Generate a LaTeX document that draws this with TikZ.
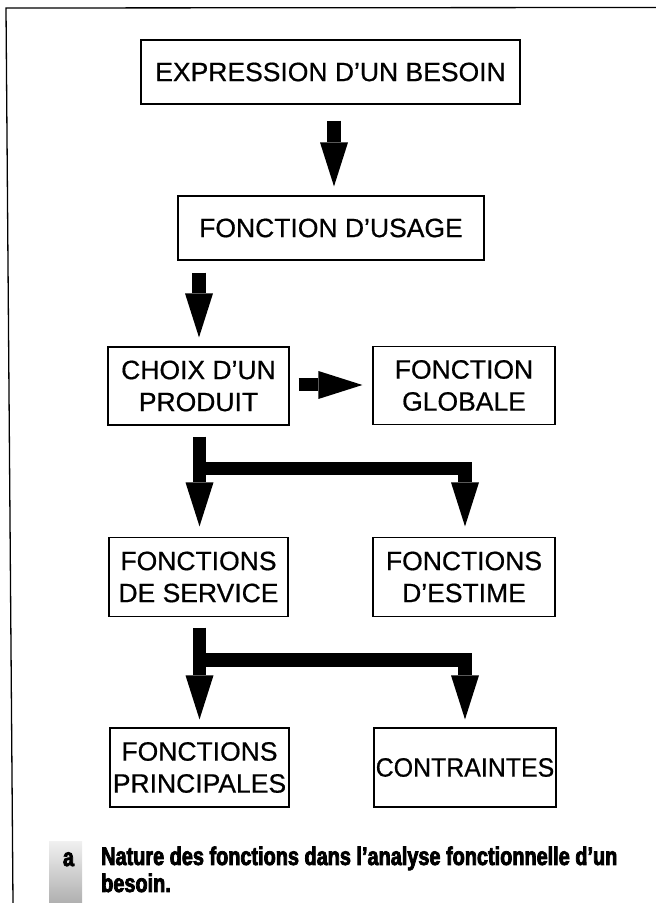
\documentclass[tikz,border=0pt]{standalone}
\usepackage{fontspec}
\setmainfont{Liberation Sans}
\newfontfamily\boxfont[FakeBold=0.6]{Liberation Sans}
\newfontfamily\capfont[FakeStretch=0.78,FakeBold=3]{Liberation Sans}
\usetikzlibrary{arrows.meta,calc}
\begin{document}
\begin{tikzpicture}[x=1pt,y=1pt,
  box/.style={draw, line width=1.2pt, inner sep=0pt, align=center,
    font=\boxfont\fontsize{26.5}{32}\selectfont},
  blk/.style={line width=13.5pt, line cap=butt, line join=miter,
    -{Triangle[length=44pt,width=28pt,line width=0pt]}},
  frameline/.style={line width=1.3pt},
  captxt/.style={inner sep=0pt, font=\capfont\bfseries\fontsize{25.5}{27}\selectfont}]
\useasboundingbox (0,0) rectangle (656,903);
% outer frame
\draw[frameline] (656,895.5) -- (6,895) -- (13,0);
% boxes
\node[box, minimum width=379pt, minimum height=64pt] (b1) at (330.5,831) {EXPRESSION D’UN BESOIN};
\node[box, minimum width=306pt, minimum height=64pt] (b2) at (331,675) {FONCTION D’USAGE};
\node[box, minimum width=181pt, minimum height=78pt] (b3) at (198.5,517) {CHOIX D’UN\\PRODUIT};
\node[box, minimum width=182pt, minimum height=78pt] (b4) at (464,517.5) {FONCTION\\GLOBALE};
\node[box, minimum width=179pt, minimum height=79pt] (b5) at (198.5,326) {FONCTIONS\\DE SERVICE};
\node[box, minimum width=182pt, minimum height=79pt] (b6) at (464,326) {FONCTIONS\\D’ESTIME};
\node[box, minimum width=179pt, minimum height=79pt] (b7) at (199.5,135.5) {FONCTIONS\\PRINCIPALES};
\node[box, minimum width=182pt, minimum height=79pt] (b8) at (465,135.5) {\scalebox{0.94}[1]{CONTRAINTES}};
% block arrows
\draw[blk] ($(b1.south)+(3.5,-16)$) -- ($(b2.north)+(3,9)$);
\draw[blk] ($(b2.south -| b3.north)+(0.5,-12)$) -- ($(b3.north)+(0.5,9)$);
\draw[blk, line width=13pt] ($(b3.east)+(9,1)$) -- ($(b4.west)+(-10,0.5)$);
\draw[blk] ($(b3.south)+(1,-11)$) -- ($(b5.north)+(1,10.5)$);
\draw[blk] ($(b3.south)+(1,-43)$) -| ($(b6.north)+(1,10.5)$);
\draw[blk] ($(b5.south)+(1,-10.5)$) -- ($(b7.north)+(0,8)$);
\draw[blk] ($(b5.south)+(1,-43)$) -| ($(b8.north)+(0,8)$);
% caption
\node[anchor=south west, inner sep=0pt, minimum width=33pt, minimum height=61pt,
  top color=gray!12, bottom color=gray!62] (mk) at (49,0) {};
\node[captxt, anchor=base] (ma) at (68.5,37) {a};
\node[captxt, anchor=base west] (c1) at (101,38) {Nature des fonctions dans l’analyse fonctionnelle d’un};
\node[captxt, anchor=base west] (c2) at (101,11) {besoin.};
\end{tikzpicture}
\end{document}
